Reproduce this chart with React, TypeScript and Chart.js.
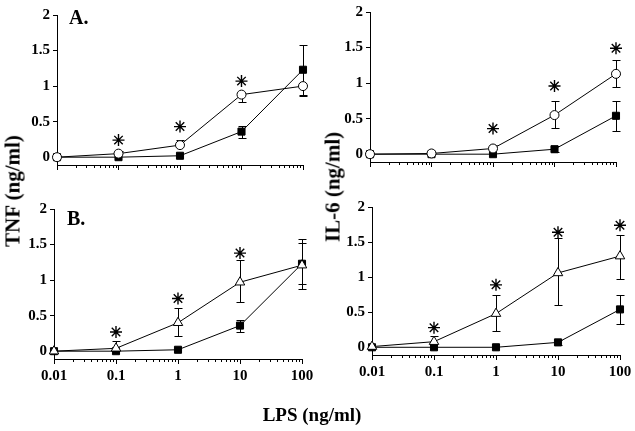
import React, { useEffect, useRef } from 'react';
import { Chart, registerables } from 'chart.js';

Chart.register(...registerables);

// ---------- data ----------
const doses = [0.01, 0.1, 1, 10, 100];
const xTickLabels = ['0.01', '0.1', '1', '10', '100'];
const yTickValues = [0, 0.5, 1, 1.5, 2];

// TNF, control (filled squares)
const tnfControl = [0, 0, 0.02, 0.36, 1.23];
const tnfControlErrUp = [0, 0, 0, 0.085, 0.35];
const tnfControlErrDown = [0, 0, 0, 0.09, 0.35];

// TNF, panel A (open circles)
const tnfCircle = [0, 0.05, 0.17, 0.88, 1.0];
const tnfCircleErrUp = [0, 0.03, 0.07, 0, 0];
const tnfCircleErrDown = [0, 0, 0, 0.1, 0.14];
const tnfCircleStarX = [0.1, 1, 10];
const tnfCircleStarY = [0.24, 0.43, 1.07];

// TNF, panel B (open triangles)
const tnfTriangle = [0, 0.04, 0.4, 0.97, 1.21];
const tnfTriangleErrUp = [0, 0.1, 0.21, 0.31, 0.31];
const tnfTriangleErrDown = [0, 0, 0.19, 0.28, 0.27];
const tnfTriangleStarX = [0.1, 1, 10];
const tnfTriangleStarY = [0.27, 0.74, 1.38];

// IL-6, control (filled squares)
const il6Control = [0, 0, 0, 0.07, 0.54];
const il6ControlErrUp = [0, 0, 0, 0.04, 0.21];
const il6ControlErrDown = [0, 0, 0, 0.04, 0.21];

// IL-6, panel A (open circles)
const il6Circle = [0, 0.01, 0.08, 0.55, 1.13];
const il6CircleErrUp = [0, 0, 0.05, 0.2, 0.19];
const il6CircleErrDown = [0, 0, 0, 0.18, 0.19];
const il6CircleStarX = [1, 10, 100];
const il6CircleStarY = [0.36, 0.96, 1.49];

// IL-6, panel B (open triangles)
const il6Triangle = [0.01, 0.08, 0.48, 1.06, 1.3];
const il6TriangleErrUp = [0, 0.08, 0.27, 0.5, 0.3];
const il6TriangleErrDown = [0, 0, 0.25, 0.46, 0.33];
const il6TriangleStarX = [0.1, 1, 10, 100];
const il6TriangleStarY = [0.28, 0.89, 1.64, 1.74];

// ---------- layout ----------
const W = 635;
const H = 431;
const FONT = "'Liberation Serif', 'Times New Roman', serif";
const Y_AXIS_W = 40;

type PanelSpec = {
  plot: [number, number, number, number]; // left, top, right, bottom
  showX: boolean;
  values: number[];
  errUp: number[];
  errDown: number[];
  marker: 'circle' | 'triangle';
  control: number[];
  controlUp: number[];
  controlDown: number[];
  starX: number[];
  starY: number[];
};

const panels: PanelSpec[] = [
  {
    plot: [57, 15, 303, 165], showX: false,
    values: tnfCircle, errUp: tnfCircleErrUp, errDown: tnfCircleErrDown, marker: 'circle',
    control: tnfControl, controlUp: tnfControlErrUp, controlDown: tnfControlErrDown,
    starX: tnfCircleStarX, starY: tnfCircleStarY,
  },
  {
    plot: [370, 10, 616, 162], showX: false,
    values: il6Circle, errUp: il6CircleErrUp, errDown: il6CircleErrDown, marker: 'circle',
    control: il6Control, controlUp: il6ControlErrUp, controlDown: il6ControlErrDown,
    starX: il6CircleStarX, starY: il6CircleStarY,
  },
  {
    plot: [54, 209, 302, 359], showX: true,
    values: tnfTriangle, errUp: tnfTriangleErrUp, errDown: tnfTriangleErrDown, marker: 'triangle',
    control: tnfControl, controlUp: tnfControlErrUp, controlDown: tnfControlErrDown,
    starX: tnfTriangleStarX, starY: tnfTriangleStarY,
  },
  {
    plot: [372, 207, 620, 355], showX: true,
    values: il6Triangle, errUp: il6TriangleErrUp, errDown: il6TriangleErrDown, marker: 'triangle',
    control: il6Control, controlUp: il6ControlErrUp, controlDown: il6ControlErrDown,
    starX: il6TriangleStarX, starY: il6TriangleStarY,
  },
];

const errorBarPlugin = {
  id: 'errorBars',
  beforeDatasetsDraw(chart: any) {
    const { ctx } = chart;
    const xs = chart.scales.x;
    const ys = chart.scales.y;
    ctx.save();
    ctx.strokeStyle = '#000';
    ctx.lineWidth = 1;
    chart.data.datasets.forEach((ds: any) => {
      if (!ds.errUp) return;
      ds.data.forEach((pt: any, j: number) => {
        const px = Math.round(xs.getPixelForValue(pt.x)) + 0.5;
        const py = ys.getPixelForValue(pt.y);
        const segs: number[] = [];
        if (ds.errUp[j] > 0) segs.push(ys.getPixelForValue(pt.y + ds.errUp[j]));
        if (ds.errDown[j] > 0) segs.push(ys.getPixelForValue(pt.y - ds.errDown[j]));
        segs.forEach((ty) => {
          const cy = Math.round(ty) + 0.5;
          ctx.beginPath();
          ctx.moveTo(px, py);
          ctx.lineTo(px, cy);
          ctx.moveTo(px - 4, cy);
          ctx.lineTo(px + 4, cy);
          ctx.stroke();
        });
      });
    });
    ctx.restore();
  },
};

const minorTickPlugin = {
  id: 'minorTicks',
  afterDraw(chart: any) {
    const { ctx, chartArea } = chart;
    const xs = chart.scales.x;
    ctx.save();
    ctx.strokeStyle = '#000';
    ctx.lineWidth = 1;
    for (let d = 0; d < doses.length - 1; d++) {
      for (let m = 2; m <= 9; m++) {
        const px = Math.round(xs.getPixelForValue(doses[d] * m)) + 0.5;
        ctx.beginPath();
        ctx.moveTo(px, chartArea.bottom);
        ctx.lineTo(px, chartArea.bottom + 3);
        ctx.stroke();
      }
    }
    ctx.restore();
  },
};

function Panel({ spec }: { spec: PanelSpec }) {
  const ref = useRef<HTMLCanvasElement | null>(null);
  useEffect(() => {
    const [pl, pt, pr, pb] = spec.plot;
    const xAxisH = spec.showX ? 30 : 8;
    const toPts = (ys: number[]) => doses.map((x, i) => ({ x, y: ys[i] }));
    const chart = new Chart(ref.current as HTMLCanvasElement, {
      type: 'scatter',
      data: {
        datasets: [
          {
            data: toPts(spec.values),
            showLine: true,
            borderColor: '#000',
            borderWidth: 1,
            pointStyle: spec.marker,
            pointRadius: spec.marker === 'circle' ? 4.5 : 5.5,
            pointBackgroundColor: '#fff',
            pointBorderColor: '#000',
            pointBorderWidth: 1,
            clip: false,
            errUp: spec.errUp,
            errDown: spec.errDown,
          } as any,
          {
            data: toPts(spec.control),
            showLine: true,
            borderColor: '#000',
            borderWidth: 1,
            pointStyle: 'rect',
            pointRadius: 5,
            pointBackgroundColor: '#000',
            pointBorderColor: '#000',
            pointBorderWidth: 1,
            clip: false,
            errUp: spec.controlUp,
            errDown: spec.controlDown,
          } as any,
          {
            data: spec.starX.map((x, i) => ({ x, y: spec.starY[i] })),
            showLine: false,
            pointStyle: 'star',
            pointRadius: 6,
            pointBorderColor: '#000',
            pointBorderWidth: 1.4,
            pointBackgroundColor: '#000',
            clip: false,
          } as any,
        ],
      },
      options: {
        animation: false,
        responsive: false,
        devicePixelRatio: 1,
        events: [],
        layout: {
          padding: {
            left: pl - Y_AXIS_W,
            top: pt,
            right: W - pr,
            bottom: H - pb - xAxisH,
          },
        },
        plugins: { legend: { display: false }, tooltip: { enabled: false } },
        scales: {
          x: {
            type: 'logarithmic',
            min: 0.01,
            max: 100,
            afterBuildTicks: (s: any) => {
              s.ticks = doses.map((v) => ({ value: v, major: true }));
            },
            afterFit: (s: any) => {
              s.height = xAxisH;
            },
            ticks: {
              display: spec.showX,
              autoSkip: false,
              maxRotation: 0,
              minRotation: 0,
              padding: 3,
              color: '#000',
              font: { family: FONT, size: 15, weight: 'bold' },
              callback: (_v: any, i: number) => xTickLabels[i],
            },
            grid: {
              display: true,
              drawOnChartArea: false,
              drawTicks: true,
              tickLength: 5,
              tickColor: '#000',
              tickWidth: 1,
            },
            border: { display: true, color: '#000', width: 1 },
          },
          y: {
            type: 'linear',
            min: -0.11,
            max: 2,
            afterBuildTicks: (s: any) => {
              s.ticks = yTickValues.map((v) => ({ value: v }));
            },
            afterFit: (s: any) => {
              s.width = Y_AXIS_W;
            },
            ticks: {
              padding: 3,
              color: '#000',
              font: { family: FONT, size: 15, weight: 'bold' },
              callback: (v: any) => String(v),
            },
            grid: {
              display: true,
              drawOnChartArea: false,
              drawTicks: true,
              tickLength: 4,
              tickColor: '#000',
              tickWidth: 1,
            },
            border: { display: true, color: '#000', width: 1 },
          },
        },
      } as any,
      plugins: [errorBarPlugin, minorTickPlugin],
    });
    return () => chart.destroy();
  }, [spec]);
  return (
    <canvas
      ref={ref}
      width={W}
      height={H}
      style={{ position: 'absolute', left: 0, top: 0, width: W, height: H }}
    />
  );
}

const textBase: React.CSSProperties = {
  position: 'absolute',
  fontFamily: FONT,
  fontWeight: 'bold',
  color: '#000',
  lineHeight: 1,
  whiteSpace: 'nowrap',
};

export default function App() {
  return (
    <div style={{ position: 'absolute', left: 0, top: 0, width: W, height: H, background: '#fff', overflow: 'hidden' }}>
      {panels.map((p, i) => (
        <Panel key={i} spec={p} />
      ))}
      <div style={{ ...textBase, left: 69, top: 7, fontSize: 20 }}>A.</div>
      <div style={{ ...textBase, left: 67, top: 207.5, fontSize: 20 }}>B.</div>
      <div
        style={{
          ...textBase,
          left: 12.5,
          top: 191,
          fontSize: 21,
          transform: 'translate(-50%, -50%) rotate(-90deg)',
        }}
      >
        TNF (ng/ml)
      </div>
      <div
        style={{
          ...textBase,
          left: 332.5,
          top: 186.5,
          fontSize: 21,
          transform: 'translate(-50%, -50%) rotate(-90deg)',
        }}
      >
        IL-6 (ng/ml)
      </div>
      <div
        style={{
          ...textBase,
          left: 312,
          top: 414,
          fontSize: 19,
          transform: 'translate(-50%, -50%)',
        }}
      >
        LPS (ng/ml)
      </div>
    </div>
  );
}
